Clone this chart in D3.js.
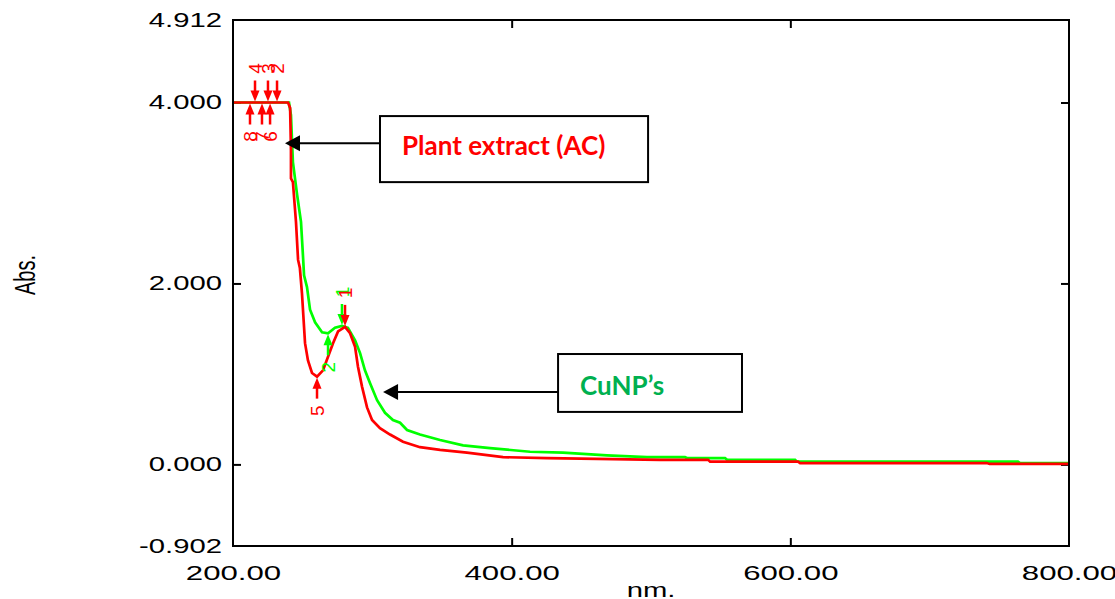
<!DOCTYPE html>
<html>
<head>
<meta charset="utf-8">
<script src="https://cdn.jsdelivr.net/npm/d3@7/dist/d3.min.js"></script>
<style>
  body { margin: 0; background: #fff; }
</style>
</head>
<body>
<script>
// spectrum (nm, Abs.)
var plantNm = [200, 239.5, 241, 241.6, 241.6, 243, 245.2, 246.7, 248, 249.5, 251.7, 253.8, 256.7, 260.3, 264.6, 268.2, 271.8, 275.4, 280.4, 284, 287.6, 289.7, 292.6, 296.2, 299.8, 305.5, 312.7, 322, 334.2, 348.6, 367.9, 393.8, 425.4, 461.2, 506.5, 541, 542.4, 605.5, 607, 741, 743, 800];
var plantAbs = [4.0, 4.0, 3.94, 3.47, 3.16, 3.12, 2.68, 2.26, 2.17, 1.89, 1.34, 1.15, 1.01, 0.97, 1.04, 1.19, 1.34, 1.47, 1.52, 1.45, 1.30, 1.08, 0.86, 0.63, 0.49, 0.40, 0.33, 0.25, 0.19, 0.16, 0.13, 0.08, 0.07, 0.06, 0.05, 0.05, 0.03, 0.03, 0.015, 0.015, 0.005, 0.005];

var cuNm = [200, 240.2, 241.6, 243, 246, 248.8, 250.2, 251, 253.1, 255.3, 258.9, 263.9, 268.2, 273.2, 278.2, 282.5, 287.6, 291.2, 294.7, 298.3, 303.4, 309.1, 314.8, 319.9, 324.9, 334.2, 348.6, 365.1, 384.5, 413.2, 436.8, 468.4, 497.1, 524.4, 525.8, 553.1, 554.6, 603.4, 604.8, 763.4, 764.9, 800];
var cuAbs = [4.0, 4.0, 3.86, 3.34, 2.98, 2.68, 2.31, 2.09, 1.96, 1.71, 1.57, 1.46, 1.45, 1.51, 1.53, 1.51, 1.37, 1.23, 1.04, 0.90, 0.71, 0.57, 0.49, 0.46, 0.38, 0.33, 0.27, 0.21, 0.18, 0.14, 0.13, 0.10, 0.08, 0.08, 0.07, 0.07, 0.05, 0.05, 0.03, 0.03, 0.015, 0.015];

// peak pick marks
var plantPeakNm = [280.4, 231.6, 225.1, 215.8];
var plantPeakAbs = [1.52, 4.0, 4.0, 4.0];
var plantPeakLabels = ["1", "2", "3", "4"];
var plantValleyNm = [260.3, 226.6, 220.8, 212.2];
var plantValleyAbs = [0.97, 4.0, 4.0, 4.0];
var plantValleyLabels = ["5", "6", "7", "8"];

var cuPeakNm = [278.2];
var cuPeakAbs = [1.53];
var cuPeakLabels = ["1"];
var cuValleyNm = [268.2];
var cuValleyAbs = [1.45];
var cuValleyLabels = ["2"];

var yTickValues = [-0.902, 0, 2, 4, 4.912];
var xTickValues = [200, 400, 600, 800];

var margin = {top: 20, right: 46, bottom: 53, left: 233};
var width = 1115 - margin.left - margin.right;
var height = 599 - margin.top - margin.bottom;

var svg = d3.select("body").append("svg")
    .attr("width", 1115)
    .attr("height", 599);

var graph = svg.append("g")
    .attr("transform", "translate(" + margin.left + "," + margin.top + ")");

var x = d3.scaleLinear().domain([200, 800]).range([0, width]);
var y = d3.scaleLinear().domain([-0.902, 4.912]).range([height, 0]);

var tickFont = "'Liberation Sans', Arial, sans-serif";

// inner tick marks on all four sides
function innerTicks(axis, tx, ty) {
    var g = graph.append("g")
        .attr("transform", "translate(" + tx + "," + ty + ")")
        .call(axis);
    g.select(".domain").remove();
    g.selectAll("line").attr("stroke", "#000").attr("stroke-width", 2);
    return g;
}
innerTicks(d3.axisLeft(y).tickValues([0, 2, 4]).tickSize(-8).tickFormat(""), 0, 0);
innerTicks(d3.axisRight(y).tickValues([0, 2, 4]).tickSize(-8).tickFormat(""), width, 0);
innerTicks(d3.axisBottom(x).tickValues([400, 600]).tickSize(-8).tickFormat(""), 0, height);
innerTicks(d3.axisTop(x).tickValues([400, 600]).tickSize(-8).tickFormat(""), 0, 0);

// tick labels (stretched wide like the instrument print-out)
var yLab = graph.append("g")
    .call(d3.axisLeft(y).tickValues(yTickValues).tickSize(0).tickPadding(11)
        .tickFormat(function(d) { return d.toFixed(3); }));
yLab.select(".domain").remove();
yLab.selectAll("text")
    .attr("x", -11 / 1.5)
    .attr("transform", "scale(1.5,1)")
    .attr("font-family", tickFont)
    .attr("font-size", "19.5px")
    .attr("fill", "#000");

var xLab = graph.append("g")
    .attr("transform", "translate(0," + height + ")")
    .call(d3.axisBottom(x).tickValues(xTickValues).tickSize(0).tickPadding(20)
        .tickFormat(function(d) { return d.toFixed(2); }));
xLab.select(".domain").remove();
xLab.selectAll("text")
    .attr("transform", "scale(1.6,1)")
    .attr("font-family", tickFont)
    .attr("font-size", "19.5px")
    .attr("fill", "#000");

// axis titles
svg.append("text")
    .attr("transform", "translate(35,275) rotate(-90) scale(0.67,1)")
    .attr("text-anchor", "middle")
    .attr("font-family", tickFont)
    .attr("font-size", "30px")
    .attr("fill", "#000")
    .text("Abs.");

svg.append("text")
    .attr("transform", "translate(" + (margin.left + width / 2) + ",597) scale(1.5,1)")
    .attr("text-anchor", "middle")
    .attr("font-family", tickFont)
    .attr("font-size", "19.5px")
    .attr("fill", "#000")
    .text("nm.");

// spectra
function drawSpectrum(nm, abs, color) {
    var line = d3.line()
        .x(function(d, i) { return x(nm[i]); })
        .y(function(d) { return y(d); });
    graph.append("path")
        .datum(abs)
        .attr("d", line)
        .attr("fill", "none")
        .attr("stroke", color)
        .attr("stroke-width", 2.7);
}
drawSpectrum(cuNm, cuAbs, "#00ff00");
drawSpectrum(plantNm, plantAbs, "#ff0000");

// peak / valley arrows; dir = -1 above the curve, +1 below
function drawMarks(nm, abs, labels, color, dir) {
    nm.forEach(function(n, i) {
        var px = x(n), py = y(abs[i]);
        graph.append("line")
            .attr("x1", px).attr("y1", py + dir * 22)
            .attr("x2", px).attr("y2", py + dir * 9)
            .attr("stroke", color)
            .attr("stroke-width", 2.5);
        graph.append("path")
            .attr("d", "M" + px + "," + (py + dir) +
                "L" + (px - 4.5) + "," + (py + dir * 12) +
                "L" + (px + 4.5) + "," + (py + dir * 12) + "Z")
            .attr("fill", color);
        graph.append("text")
            .attr("transform", "translate(" + px + "," + (py + dir * 34) + ") rotate(-90)")
            .attr("text-anchor", "middle")
            .attr("dy", "0.36em")
            .attr("font-family", tickFont)
            .attr("font-size", "19px")
            .attr("fill", color)
            .text(labels[i]);
    });
}
drawMarks(cuPeakNm, cuPeakAbs, cuPeakLabels, "#00ff00", -1);
drawMarks(cuValleyNm, cuValleyAbs, cuValleyLabels, "#00ff00", 1);
drawMarks(plantPeakNm, plantPeakAbs, plantPeakLabels, "#ff0000", -1);
drawMarks(plantValleyNm, plantValleyAbs, plantValleyLabels, "#ff0000", 1);

// frame
graph.append("rect")
    .attr("x", 0).attr("y", 0)
    .attr("width", width).attr("height", height)
    .attr("fill", "none")
    .attr("stroke", "#000")
    .attr("stroke-width", 2);

// call-out boxes with arrows
function callout(left, right, top, bottom, tipNm, arrowAbs, textNm, textAbs, label, color) {
    var ay = y(arrowAbs), tip = x(tipNm);
    graph.append("line")
        .attr("x1", x(left)).attr("y1", ay)
        .attr("x2", tip + 12).attr("y2", ay)
        .attr("stroke", "#000")
        .attr("stroke-width", 2);
    graph.append("path")
        .attr("d", "M" + tip + "," + ay + "L" + (tip + 15) + "," + (ay - 8) +
            "L" + (tip + 15) + "," + (ay + 8) + "Z")
        .attr("fill", "#000");
    graph.append("rect")
        .attr("x", x(left)).attr("y", y(top))
        .attr("width", x(right) - x(left))
        .attr("height", y(bottom) - y(top))
        .attr("fill", "#fff")
        .attr("stroke", "#000")
        .attr("stroke-width", 2);
    graph.append("text")
        .attr("x", x(textNm)).attr("y", y(textAbs))
        .attr("font-family", "Lato, 'Open Sans', sans-serif")
        .attr("font-weight", "bold")
        .attr("font-size", "26px")
        .attr("fill", color)
        .text(label);
}
callout(305.5, 497.9, 3.85, 3.12, 237.3, 3.55, 321.3, 3.42, "Plant extract (AC)", "#ff0000");
callout(433.3, 565.3, 1.22, 0.58, 307.7, 0.80, 449.1, 0.77, "CuNP\u2019s", "#00b050");
</script>
</body>
</html>
